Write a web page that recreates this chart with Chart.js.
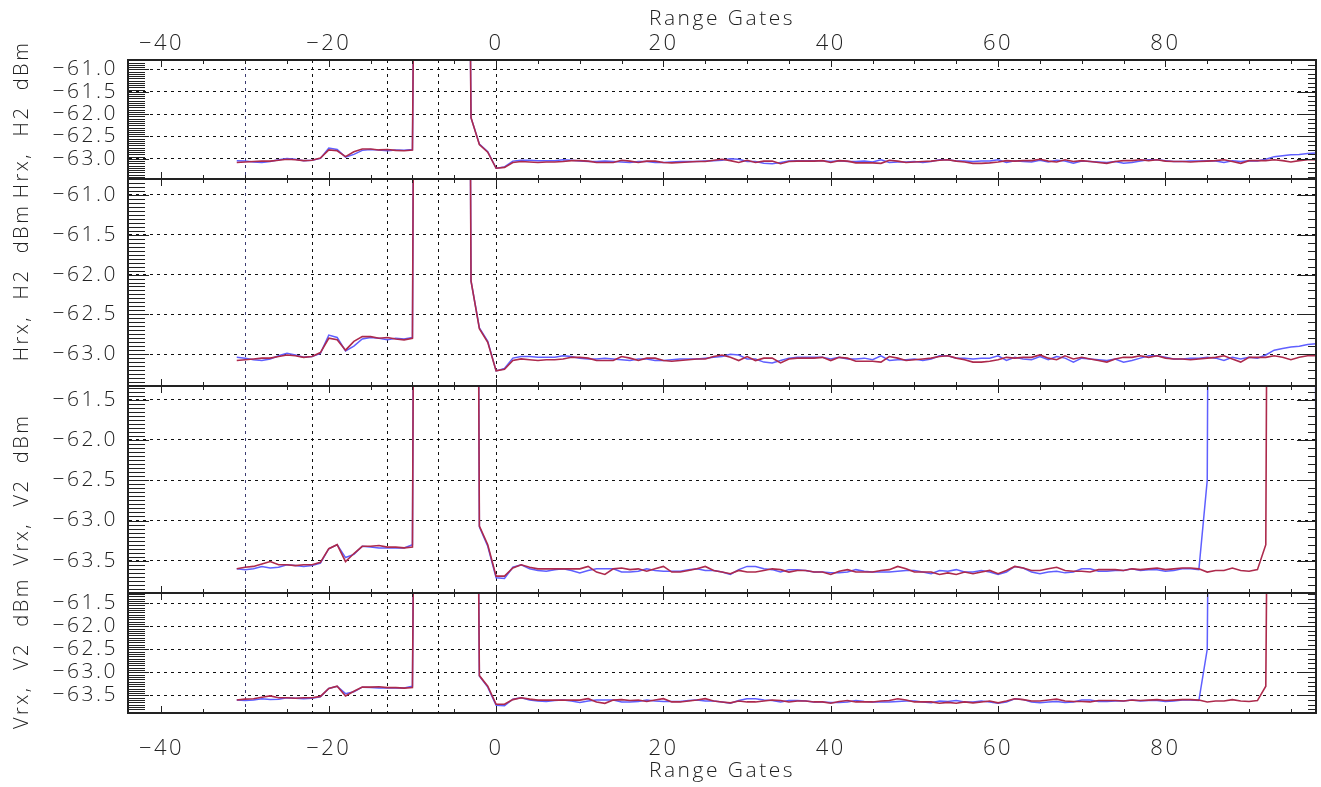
<!DOCTYPE html>
<html>
<head>
<meta charset="utf-8">
<title>Hrx / Vrx range gate profiles</title>
<script src="https://cdn.jsdelivr.net/npm/chart.js@4.4.1/dist/chart.umd.min.js"></script>
<style>
  html, body { margin: 0; padding: 0; background: #fff; }
  #wrap { width: 1321px; height: 787px; }
</style>
</head>
<body>
<div id="wrap"><canvas id="profiles" width="1321" height="787"></canvas></div>
<script>
// Range gate of every sample
const gates = [
  -31, -30, -29, -28, -27, -26, -25, -24, -23, -22,
  -21, -20, -19, -18, -17, -16, -15, -14, -13, -12,
  -11, -10, -9, -8, -7, -6, -5, -4, -3, -2,
  -1, 0, 1, 2, 3, 4, 5, 6, 7, 8,
  9, 10, 11, 12, 13, 14, 15, 16, 17, 18,
  19, 20, 21, 22, 23, 24, 25, 26, 27, 28,
  29, 30, 31, 32, 33, 34, 35, 36, 37, 38,
  39, 40, 41, 42, 43, 44, 45, 46, 47, 48,
  49, 50, 51, 52, 53, 54, 55, 56, 57, 58,
  59, 60, 61, 62, 63, 64, 65, 66, 67, 68,
  69, 70, 71, 72, 73, 74, 75, 76, 77, 78,
  79, 80, 81, 82, 83, 84, 85, 86, 87, 88,
  89, 90, 91, 92, 93, 94, 95, 96, 97, 98,
  99
];

// Horizontal receiver, H2 (dBm) - blue trace
const hBlue = [
  -63.04, -63.05, -63.07, -63.08, -63.06, -63.02, -62.99, -63.01, -63.04, -63.03,
  -62.99, -62.76, -62.79, -62.96, -62.90, -62.81, -62.79, -62.80, -62.82, -62.80,
  -62.81, -62.79, -40.0, -40.0, -40.0, -40.0, -40.0, -40.0, -62.08, -62.67,
  -62.84, -63.21, -63.18, -63.05, -63.03, -63.03, -63.04, -63.04, -63.04, -63.02,
  -63.03, -63.05, -63.06, -63.06, -63.05, -63.06, -63.07, -63.08, -63.06, -63.06,
  -63.08, -63.08, -63.07, -63.06, -63.06, -63.06, -63.05, -63.04, -63.03, -63.00,
  -63.01, -63.06, -63.06, -63.10, -63.11, -63.08, -63.05, -63.04, -63.04, -63.04,
  -63.04, -63.06, -63.04, -63.06, -63.06, -63.05, -63.07, -63.02, -63.08, -63.07,
  -63.07, -63.06, -63.08, -63.06, -63.02, -63.02, -63.05, -63.05, -63.06, -63.05,
  -63.05, -63.02, -63.08, -63.04, -63.06, -63.07, -63.03, -63.07, -63.03, -63.05,
  -63.10, -63.05, -63.06, -63.07, -63.08, -63.06, -63.10, -63.08, -63.05, -63.02,
  -63.02, -63.04, -63.06, -63.06, -63.05, -63.05, -63.04, -63.05, -63.08, -63.04,
  -63.06, -63.04, -63.05, -63.01, -62.95, -62.93, -62.91, -62.90, -62.88, -62.87,
  null
];

// Horizontal receiver, H2 (dBm) - red trace
const hRed = [
  -63.08, -63.07, -63.06, -63.05, -63.05, -63.03, -63.01, -63.02, -63.04, -63.03,
  -62.98, -62.80, -62.82, -62.95, -62.84, -62.78, -62.78, -62.80, -62.79, -62.81,
  -62.82, -62.80, -40.0, -40.0, -40.0, -40.0, -40.0, -40.0, -62.08, -62.68,
  -62.85, -63.21, -63.19, -63.08, -63.06, -63.07, -63.08, -63.07, -63.07, -63.06,
  -63.04, -63.04, -63.05, -63.08, -63.08, -63.08, -63.03, -63.05, -63.08, -63.05,
  -63.05, -63.08, -63.09, -63.08, -63.07, -63.06, -63.06, -63.03, -63.01, -63.04,
  -63.08, -63.03, -63.08, -63.05, -63.05, -63.11, -63.06, -63.05, -63.05, -63.05,
  -63.04, -63.08, -63.04, -63.05, -63.09, -63.09, -63.09, -63.10, -63.03, -63.05,
  -63.08, -63.07, -63.06, -63.05, -63.03, -63.02, -63.05, -63.07, -63.10, -63.10,
  -63.09, -63.07, -63.04, -63.05, -63.04, -63.04, -63.01, -63.05, -63.07, -63.02,
  -63.06, -63.04, -63.06, -63.08, -63.10, -63.06, -63.04, -63.04, -63.02, -63.04,
  -63.02, -63.05, -63.06, -63.06, -63.07, -63.06, -63.05, -63.04, -63.02, -63.06,
  -63.10, -63.04, -63.04, -63.04, -63.02, -63.04, -63.07, -63.04, -63.02, -63.02,
  null
];

// Vertical receiver, V2 (dBm) - blue trace
const vBlue = [
  -63.60, -63.61, -63.60, -63.57, -63.59, -63.58, -63.55, -63.56, -63.57, -63.56,
  -63.53, -63.35, -63.30, -63.46, -63.42, -63.32, -63.33, -63.34, -63.34, -63.34,
  -63.34, -63.30, -40.0, -40.0, -40.0, -40.0, -40.0, -40.0, -40.0, -63.08,
  -63.32, -63.71, -63.72, -63.58, -63.55, -63.60, -63.62, -63.63, -63.61, -63.60,
  -63.62, -63.65, -63.62, -63.60, -63.60, -63.60, -63.64, -63.64, -63.63, -63.60,
  -63.62, -63.63, -63.63, -63.63, -63.61, -63.60, -63.62, -63.62, -63.64, -63.67,
  -63.61, -63.57, -63.57, -63.60, -63.61, -63.64, -63.61, -63.61, -63.62, -63.64,
  -63.64, -63.65, -63.65, -63.64, -63.61, -63.63, -63.64, -63.64, -63.64, -63.63,
  -63.62, -63.62, -63.64, -63.66, -63.62, -63.63, -63.61, -63.64, -63.64, -63.62,
  -63.64, -63.67, -63.64, -63.57, -63.59, -63.64, -63.66, -63.64, -63.63, -63.65,
  -63.64, -63.60, -63.60, -63.63, -63.63, -63.62, -63.62, -63.60, -63.62, -63.61,
  -63.61, -63.63, -63.62, -63.60, -63.60, -63.61, -62.50, -40.0, -40.0, -40.0,
  -40.0, -40.0, -40.0, -40.0, -40.0, -40.0, -40.0, -40.0, -40.0, -62.43,
  -62.70
];

// Vertical receiver, V2 (dBm) - red trace
const vRed = [
  -63.60, -63.58, -63.57, -63.54, -63.51, -63.55, -63.55, -63.56, -63.55, -63.55,
  -63.52, -63.35, -63.30, -63.51, -63.41, -63.32, -63.32, -63.31, -63.33, -63.33,
  -63.34, -63.33, -40.0, -40.0, -40.0, -40.0, -40.0, -40.0, -40.0, -63.07,
  -63.30, -63.69, -63.69, -63.59, -63.55, -63.58, -63.60, -63.60, -63.60, -63.60,
  -63.60, -63.60, -63.57, -63.64, -63.67, -63.60, -63.59, -63.61, -63.60, -63.63,
  -63.60, -63.57, -63.64, -63.64, -63.62, -63.60, -63.57, -63.62, -63.64, -63.66,
  -63.62, -63.64, -63.64, -63.62, -63.60, -63.61, -63.64, -63.62, -63.62, -63.64,
  -63.64, -63.67, -63.63, -63.61, -63.64, -63.64, -63.64, -63.62, -63.61, -63.57,
  -63.60, -63.64, -63.64, -63.64, -63.67, -63.65, -63.67, -63.64, -63.66, -63.64,
  -63.62, -63.66, -63.62, -63.57, -63.59, -63.62, -63.62, -63.60, -63.58, -63.62,
  -63.63, -63.63, -63.64, -63.61, -63.61, -63.61, -63.62, -63.60, -63.61, -63.60,
  -63.59, -63.61, -63.60, -63.59, -63.59, -63.60, -63.64, -63.62, -63.62, -63.59,
  -63.62, -63.63, -63.61, -63.30, -40.0, -40.0, -40.0, -40.0, -40.0, -40.0,
  null
];

// Dotted reference gates drawn through all panels
const markerGates = [-30, -22, -13, -7, 0];

const BLUE = '#5f5fff';
const RED = '#ad2a4c';
const INK = '#222';
const FONT = "'Open Sans', 'DejaVu Sans', sans-serif";

// panels listed bottom to top (stacked scales are laid out last-first from the top)
const panels = [
  { id: 'p4', min: -63.88, max: -61.28, weight: 120, title: 'Vrx,  V2  dBm', blue: vBlue, red: vRed },
  { id: 'p3', min: -63.90, max: -61.33, weight: 207, title: 'Vrx,  V2  dBm', blue: vBlue, red: vRed },
  { id: 'p2', min: -63.40, max: -60.80, weight: 207, title: 'Hrx,  H2  dBm', blue: hBlue, red: hRed },
  { id: 'p1', min: -63.45, max: -60.79, weight: 119, title: 'Hrx,  H2  dBm', blue: hBlue, red: hRed }
];

const minusFmt = (v, digits) => (v < 0 ? '\u2212' : '') + Math.abs(v).toFixed(digits);

const xCommon = {
  type: 'linear',
  min: -44,
  max: 98,
  grid: { display: false },
  border: { display: true, color: INK, width: 2 },
  ticks: {
    stepSize: 20,
    includeBounds: false,
    autoSkip: false,
    color: INK,
    font: { family: FONT, size: 22, weight: '300' },
    maxRotation: 0,
    callback: v => minusFmt(v, 0)
  },
  title: {
    display: true,
    text: 'Range Gates',
    color: INK,
    font: { family: FONT, size: 21, weight: '300' }
  }
};

const scales = {
  x: Object.assign({}, xCommon, {
    position: 'bottom',
    ticks: Object.assign({}, xCommon.ticks, { padding: 15 }),
    title: Object.assign({}, xCommon.title, { padding: { top: 0, bottom: 3 } }),
    afterFit: s => { s.height = 74; }
  }),
  xTop: Object.assign({}, xCommon, {
    position: 'top',
    ticks: Object.assign({}, xCommon.ticks, { padding: -5 }),
    title: Object.assign({}, xCommon.title, { padding: { top: 6, bottom: 0 } }),
    afterFit: s => { s.height = 60; }
  })
};

panels.forEach(p => {
  scales[p.id] = {
    type: 'linear',
    position: 'left',
    stack: 'panels',
    stackWeight: p.weight,
    min: p.min,
    max: p.max,
    grid: { color: '#111', lineWidth: 1, drawTicks: false },
    border: { display: true, color: INK, width: 2, dash: [3, 4] },
    ticks: {
      stepSize: 0.5,
      includeBounds: false,
      autoSkip: false,
      padding: 10,
      color: INK,
      font: { family: FONT, size: 21, weight: '300' },
      callback: v => minusFmt(v, 1)
    },
    title: {
      display: true,
      text: p.title,
      color: INK,
      padding: { top: 10, bottom: 0 },
      font: { family: FONT, size: 20, weight: '300' }
    },
    afterFit: s => { s.width = 128; }
  };
});

const datasets = [];
panels.forEach(p => {
  const lastBlueClip = p.id === 'p3' || p.id === 'p4'
    ? { left: 0, top: 0, right: 5, bottom: 0 } : undefined;
  datasets.push({
    label: p.id + ' blue', data: p.blue, yAxisID: p.id, xAxisID: 'x',
    borderColor: BLUE, borderWidth: 1.5, pointRadius: 0, tension: 0, order: 2,
    clip: lastBlueClip
  });
  datasets.push({
    label: p.id + ' red', data: p.red, yAxisID: p.id, xAxisID: 'x',
    borderColor: RED, borderWidth: 1.6, pointRadius: 0, tension: 0, order: 1
  });
});

// Wider letter spacing, inward tick combs and panel frames
const frameDecor = {
  id: 'frameDecor',
  beforeDraw(chart) {
    chart.ctx.letterSpacing = '2.5px';
  },
  beforeDatasetsDraw(chart) {
    const { ctx, chartArea, scales: sc } = chart;
    ctx.save();
    ctx.lineWidth = 1;
    ctx.setLineDash([3, 4]);
    markerGates.forEach(g => {
      const px = Math.round(sc.x.getPixelForValue(g)) + 0.5;
      ctx.strokeStyle = g === -30 ? '#3a3a70' : '#111';
      ctx.beginPath();
      ctx.moveTo(px, chartArea.top);
      ctx.lineTo(px, chartArea.bottom);
      ctx.stroke();
    });
    ctx.restore();
  },
  afterDatasetsDraw(chart) {
    const { ctx, chartArea, scales: sc } = chart;
    ctx.save();
    ctx.strokeStyle = INK;
    ctx.lineWidth = 1;
    ctx.beginPath();
    panels.forEach(p => {
      const s = sc[p.id];
      // left comb every 0.05, right comb every 0.1
      [[0.05, chartArea.left, 1, 17, 21], [0.1, chartArea.right, -1, 8, 19]].forEach(([step, x0, dir, lMin, lMaj]) => {
        const k0 = Math.ceil(s.min / step - 1e-6);
        const k1 = Math.floor(s.max / step + 1e-6);
        const per = Math.round(0.5 / step);
        for (let k = k0; k <= k1; k++) {
          const y = Math.round(s.getPixelForValue(k * step)) + 0.5;
          const len = k % per === 0 ? lMaj : lMin;
          ctx.moveTo(x0, y);
          ctx.lineTo(x0 + dir * len, y);
        }
      });
      // gate ticks on the top and bottom edge of each panel
      for (let g = -40; g <= 95; g += 5) {
        const px = Math.round(sc.x.getPixelForValue(g)) + 0.5;
        const len = g % 20 === 0 ? 7 : 4;
        ctx.moveTo(px, s.top);
        ctx.lineTo(px, s.top + len);
        ctx.moveTo(px, s.bottom);
        ctx.lineTo(px, s.bottom - len);
      }
    });
    ctx.stroke();

    ctx.lineWidth = 2;
    ctx.beginPath();
    panels.forEach(p => {
      const s = sc[p.id];
      ctx.moveTo(chartArea.left, s.top);
      ctx.lineTo(chartArea.right, s.top);
    });
    ctx.moveTo(chartArea.right, chartArea.top);
    ctx.lineTo(chartArea.right, chartArea.bottom);
    ctx.stroke();
    ctx.restore();
  }
};

new Chart(document.getElementById('profiles'), {
  type: 'line',
  data: { labels: gates, datasets: datasets },
  options: {
    responsive: false,
    animation: false,
    devicePixelRatio: 1,
    layout: { padding: { left: 0, top: 0, right: 5, bottom: 0 } },
    plugins: { legend: { display: false }, tooltip: { enabled: false } },
    scales: scales
  },
  plugins: [frameDecor]
});
</script>
</body>
</html>
